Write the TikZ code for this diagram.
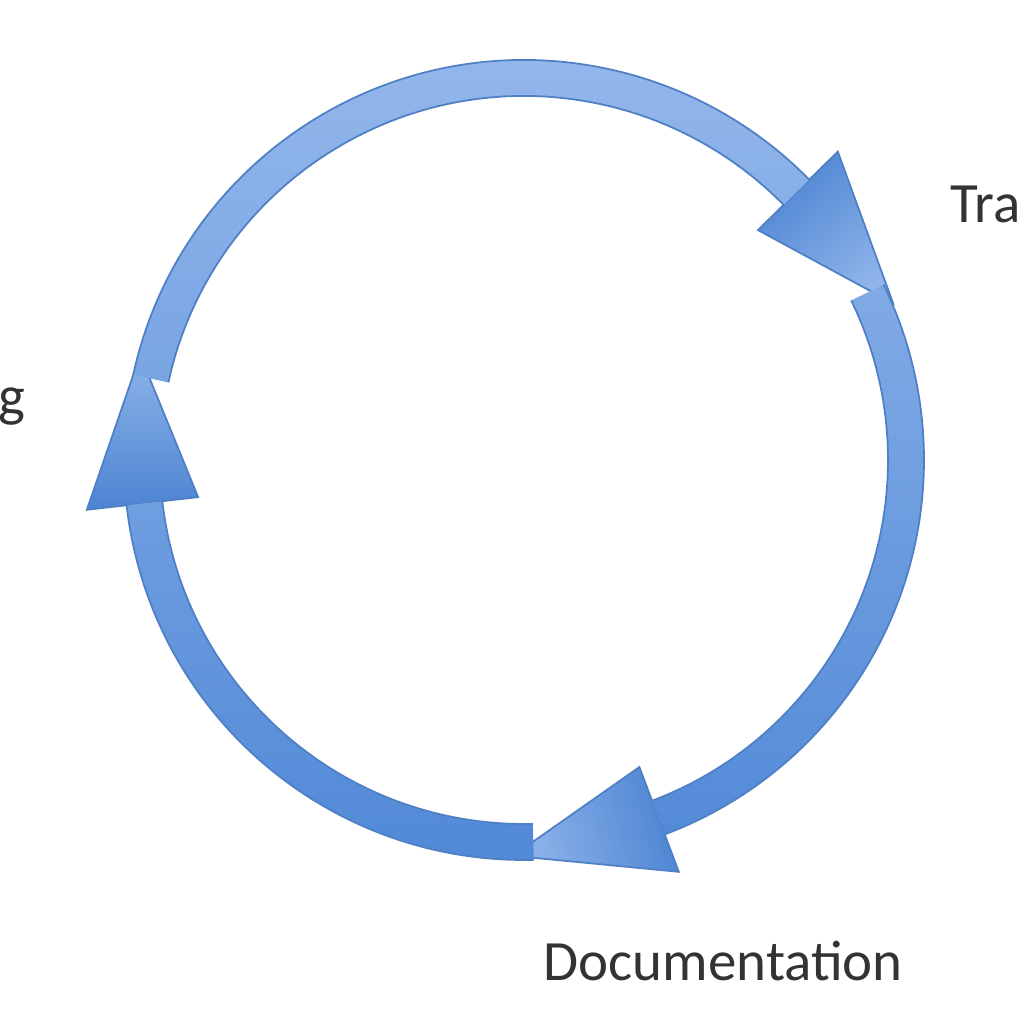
\documentclass[tikz,border=0pt]{standalone}
\usepackage{fontspec}
\setmainfont{Carlito}
\usepackage{xcolor}
\usetikzlibrary{calc}

\definecolor{ringtop}{HTML}{96B9EC}
\definecolor{ringmid}{HTML}{6A9DE0}
\definecolor{ringbot}{HTML}{5189D7}
\definecolor{ringedge}{HTML}{4F7FC4}
\definecolor{headdark}{HTML}{4C84D2}
\definecolor{headlight}{HTML}{8FB4EA}

% one annular piece of the ring, clockwise from #1 to #2
\newcommand\ringseg[2]{(#1:400) arc[start angle=#1, end angle=#2, radius=400] -- (#2:364) arc[start angle=#2, end angle=#1, radius=364] -- cycle}
% only the two curved edges of such a piece
\newcommand\ringedges[2]{(#1:400) arc[start angle=#1, end angle=#2, radius=400] (#1:364) arc[start angle=#1, end angle=#2, radius=364]}

\begin{document}
\begin{tikzpicture}[x=0.01cm, y=0.01cm,
    ring/.style={top color=ringtop, middle color=ringmid, bottom color=ringbot},
    edge/.style={draw=ringedge, line width=0.5},
    head/.style={shading=axis, top color=headdark, bottom color=headlight, shading angle=#1, draw=ringedge, line width=0.5},
    label/.style={font=\fontsize{16.2}{19}\selectfont, text=black!80, inner sep=0}]
    \useasboundingbox (0,0) rectangle (1024,1024);

    \begin{scope}[shift={(524,564)}]
    % arrow heads
    \shade [head=41] (44.5:328) -- (44.5:440) -- (23:401) -- cycle;
    \shade [head=284] (-69.4:328) -- (-69.4:440) -- (-91.6:396) -- cycle;
    \shade [head=180] (-173.5:328) -- (-173.5:440) -- (164.7:398) -- cycle;

    % ring
    \shade [ring] \ringseg{167.7}{44.5} \ringseg{26}{-69.4} \ringseg{-88.6}{-173.5};
    \path [edge] \ringedges{167.7}{44.5} \ringedges{26}{-69.4} \ringedges{-88.6}{-173.5};
    \end{scope}

    \node [label, anchor=base west] (train) at (950,801) {Tra};
    \node [label, anchor=base west] (doc) at (543,44) {Documentation};
    \node [label, anchor=base east] (left) at (26,608) {g};
\end{tikzpicture}
\end{document}
